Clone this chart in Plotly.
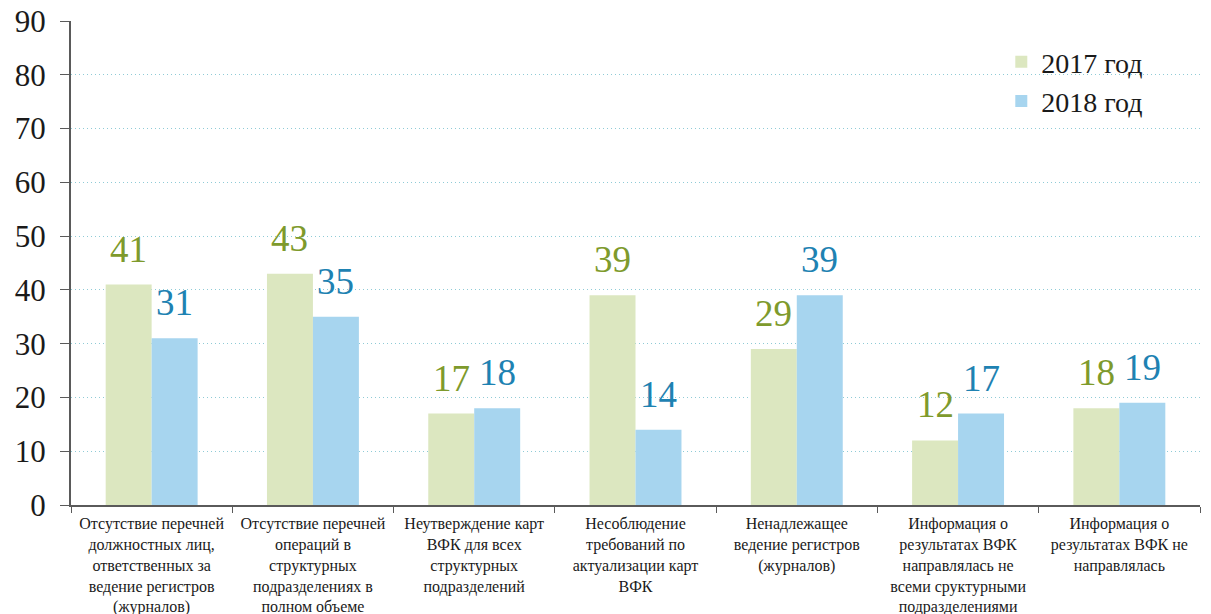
import plotly.graph_objects as go

# Categories of violations found during internal financial control (ВФК)
categories = [
    "Отсутствие перечней<br>должностных лиц,<br>ответственных за<br>ведение регистров<br>(журналов)",
    "Отсутствие перечней<br>операций в<br>структурных<br>подразделениях в<br>полном объеме",
    "Неутверждение карт<br>ВФК для всех<br>структурных<br>подразделений",
    "Несоблюдение<br>требований по<br>актуализации карт<br>ВФК",
    "Ненадлежащее<br>ведение регистров<br>(журналов)",
    "Информация о<br>результатах ВФК<br>направлялась не<br>всеми сруктурными<br>подразделениями",
    "Информация о<br>результатах ВФК не<br>направлялась",
]
values_2017 = [41, 43, 17, 39, 29, 12, 18]
values_2018 = [31, 35, 18, 14, 39, 17, 19]
series_names = ["2017 год", "2018 год"]
y_ticks = [0, 10, 20, 30, 40, 50, 60, 70, 80, 90]

SERIF = "Liberation Serif, Times New Roman, serif"
bar_colors = ["#dce7c0", "#a7d5ef"]
label_colors = ["#7e9a2c", "#1e82b2"]

fig = go.Figure()
for name, vals, col in zip(series_names, [values_2017, values_2018], bar_colors):
    fig.add_trace(go.Bar(
        x=categories, y=vals, name=name,
        marker=dict(color=col, line=dict(width=0)),
    ))

# value labels above each bar, shifted onto its own column in the group
for vals, col, shift in zip([values_2017, values_2018], label_colors, [-23, 23]):
    for cat, v in zip(categories, vals):
        fig.add_annotation(
            x=cat, y=v, xref="x", yref="y", text=str(v), showarrow=False,
            xshift=shift, yshift=13, yanchor="bottom",
            font=dict(family=SERIF, size=37, color=col),
        )

fig.update_layout(
    width=1211, height=614,
    margin=dict(l=71, r=11, t=21, b=109),
    paper_bgcolor="white", plot_bgcolor="white",
    barmode="group", bargap=0.43, bargroupgap=0,
    font=dict(family=SERIF, color="#1a1a1a"),
    legend=dict(
        x=0.824, y=0.967, xanchor="left", yanchor="top",
        font=dict(family=SERIF, size=28, color="#1a1a1a"),
        bgcolor="rgba(0,0,0,0)", tracegroupgap=0,
    ),
    showlegend=True,
)
fig.update_xaxes(
    automargin=False,
    showline=True, linecolor="#5a5a5a", linewidth=2,
    ticks="outside", tickson="boundaries", ticklen=6, tickcolor="#5a5a5a",
    tickfont=dict(family=SERIF, size=16, color="#1a1a1a"),
    ticklabelstandoff=3,
    showgrid=False,
)
fig.update_yaxes(
    automargin=False,
    range=[0, 90], tickvals=y_ticks,
    showline=True, linecolor="#5a5a5a", linewidth=2,
    ticks="outside", ticklen=9, tickcolor="#5a5a5a",
    tickfont=dict(family=SERIF, size=31, color="#1a1a1a"),
    ticklabelstandoff=8,
    showgrid=True, gridcolor="#8fcbd6", gridwidth=1, griddash="1px,3px",
    zeroline=False,
)

fig.write_html("out.html")
